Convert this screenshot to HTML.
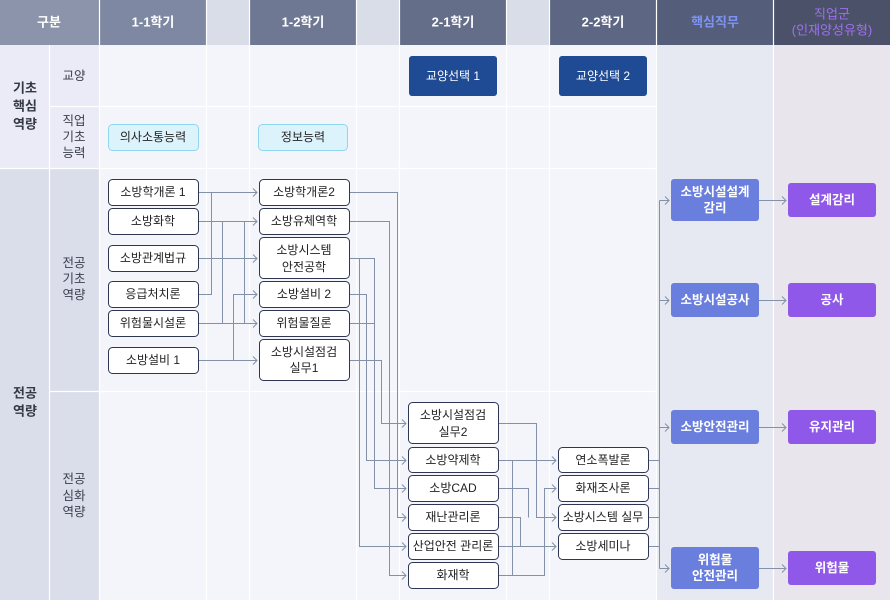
<!DOCTYPE html>
<html><head><meta charset="utf-8"><style>
html,body{margin:0;padding:0;background:#f4f5fa;}
svg{display:block;font-family:"Liberation Sans","Noto Sans CJK KR",sans-serif;}
.h{fill:#fff;font-size:13px;font-weight:bold;}
.l{fill:#3a3f4e;font-size:12.5px;}
.lb{fill:#333845;font-size:13px;font-weight:bold;}
.b{fill:#fff;stroke:#2e3652;stroke-width:1;}
.t{fill:#222;font-size:12px;}
.c{fill:none;stroke:#8290a8;stroke-width:1;}
.w{fill:#fff;font-size:12.5px;font-weight:bold;}
</style></head><body>
<svg width="890" height="600" viewBox="0 0 890 600" xmlns="http://www.w3.org/2000/svg">
<!-- body backgrounds -->
<rect x="0" y="0" width="890" height="600" fill="#f4f5fa"/>
<rect x="0" y="45" width="99" height="123" fill="#eaebf6"/>
<rect x="0" y="168" width="99" height="432" fill="#dadeea"/>
<rect x="657" y="45" width="116" height="555" fill="#e6e9f2"/>
<rect x="773" y="45" width="117" height="555" fill="#e8e5ec"/>
<!-- header -->
<rect x="0" y="0" width="99" height="45" fill="#8b94aa"/>
<rect x="100" y="0" width="106" height="45" fill="#7f88a2"/>
<rect x="207" y="0" width="42" height="45" fill="#d9dde8"/>
<rect x="250" y="0" width="106" height="45" fill="#6f7892"/>
<rect x="357" y="0" width="42" height="45" fill="#d9dde8"/>
<rect x="400" y="0" width="106" height="45" fill="#656e89"/>
<rect x="507" y="0" width="42" height="45" fill="#d9dde8"/>
<rect x="550" y="0" width="106" height="45" fill="#5d6682"/>
<rect x="657" y="0" width="116" height="45" fill="#545d79"/>
<rect x="774" y="0" width="116" height="45" fill="#4a5169"/>
<!-- grid lines -->
<g stroke="#ffffff" stroke-width="1.2">
<line x1="49.5" y1="45" x2="49.5" y2="600"/>
<line x1="99.5" y1="0" x2="99.5" y2="600"/>
<line x1="206.5" y1="0" x2="206.5" y2="600"/>
<line x1="249.5" y1="0" x2="249.5" y2="600"/>
<line x1="356.5" y1="0" x2="356.5" y2="600"/>
<line x1="399.5" y1="0" x2="399.5" y2="600"/>
<line x1="506.5" y1="0" x2="506.5" y2="600"/>
<line x1="549.5" y1="0" x2="549.5" y2="600"/>
<line x1="656.5" y1="0" x2="656.5" y2="600"/>
<line x1="773.5" y1="0" x2="773.5" y2="600"/>
<line x1="49" y1="106.5" x2="657" y2="106.5"/>
<line x1="0" y1="168.5" x2="657" y2="168.5"/>
<line x1="49" y1="391.5" x2="657" y2="391.5"/>
</g>
<!-- header text -->
<g text-anchor="middle" dominant-baseline="central">
<text class="h" x="49" y="22">구분</text>
<text class="h" x="153" y="22">1-1학기</text>
<text class="h" x="303" y="22">1-2학기</text>
<text class="h" x="453" y="22">2-1학기</text>
<text class="h" x="603" y="22">2-2학기</text>
<text class="h" x="715" y="22" style="fill:#7f94f2">핵심직무</text>
<text class="h" x="832" y="14" style="fill:#a070ee;font-weight:normal">직업군</text>
<text class="h" x="832" y="30" style="fill:#a070ee;font-weight:normal">(인재양성유형)</text>
<!-- left labels -->
<text class="lb" x="25" y="88">기초</text>
<text class="lb" x="25" y="106">핵심</text>
<text class="lb" x="25" y="124">역량</text>
<text class="l" x="74" y="76">교양</text>
<text class="l" x="74" y="121">직업</text>
<text class="l" x="74" y="137">기초</text>
<text class="l" x="74" y="153">능력</text>
<text class="lb" x="25" y="393">전공</text>
<text class="lb" x="25" y="411">역량</text>
<text class="l" x="74" y="263">전공</text>
<text class="l" x="74" y="279">기초</text>
<text class="l" x="74" y="295">역량</text>
<text class="l" x="74" y="479">전공</text>
<text class="l" x="74" y="496">심화</text>
<text class="l" x="74" y="512">역량</text>
</g>
<!-- top boxes -->
<rect x="108.5" y="124.5" width="90" height="26" rx="4" fill="#ddf3fb" stroke="#8fd6ef"/>
<rect x="258.5" y="124.5" width="89" height="26" rx="4" fill="#ddf3fb" stroke="#8fd6ef"/>
<rect x="409" y="56" width="88" height="40" rx="3" fill="#1f4a94"/>
<rect x="559" y="56" width="88" height="40" rx="3" fill="#1f4a94"/>
<g text-anchor="middle" dominant-baseline="central">
<text class="t" x="153" y="137">의사소통능력</text>
<text class="t" x="303" y="137">정보능력</text>
<text class="t" x="453" y="76" style="fill:#fff">교양선택 1</text>
<text class="t" x="603" y="76" style="fill:#fff">교양선택 2</text>
</g>
<!-- connectors -->
<g class="c">
<path d="M198,192.5H257M211.5,192.5V294.5H198"/>
<path d="M198,221.5H257M222.5,221.5V323.5M244.5,221.5V323.5"/>
<path d="M198,258.5H257"/>
<path d="M198,323.5H257"/>
<path d="M198,360.5H257M233.5,360.5V294.5H257"/>
<path d="M349,192.5H397.5V517.5H406"/>
<path d="M349,221.5H389.5V575.5H406"/>
<path d="M349,258.5H374.5V488.5H406M359.5,258.5V546.5H406"/>
<path d="M349,294.5H366.5V460.5H406"/>
<path d="M349,323.5H374.5"/>
<path d="M349,360.5H381.5V423.5H406"/>
<path d="M498,423.5H536.5V517.5H556"/>
<path d="M498,460.5H556M512.5,460.5V575.5"/>
<path d="M498,488.5H528.5V517.5"/>
<path d="M498,517.5H520.5V546.5"/>
<path d="M498,546.5H556"/>
<path d="M498,575.5H544.5V488.5H556"/>
<path d="M648,460.5H659.5M648,488.5H659.5M648,517.5H659.5M648,546.5H659.5"/>
<path d="M659.5,200.5V568.5M659.5,200.5H669M659.5,300.5H669M659.5,427.5H669M659.5,568.5H669"/>
<path d="M759,200.5H786M759,300.5H786M759,427.5H786M759,568.5H786"/>
<!-- arrowheads -->
<path d="M253,188.5L257,192.5L253,196.5M253,217.5L257,221.5L253,225.5M253,254.5L257,258.5L253,262.5M253,290.5L257,294.5L253,298.5M253,319.5L257,323.5L253,327.5M253,356.5L257,360.5L253,364.5"/>
<path d="M402,419.5L406,423.5L402,427.5M402,456.5L406,460.5L402,464.5M402,484.5L406,488.5L402,492.5M402,513.5L406,517.5L402,521.5M402,542.5L406,546.5L402,550.5M402,571.5L406,575.5L402,579.5"/>
<path d="M552,456.5L556,460.5L552,464.5M552,484.5L556,488.5L552,492.5M552,513.5L556,517.5L552,521.5M552,542.5L556,546.5L552,550.5"/>
<path d="M665,196.5L669,200.5L665,204.5M665,296.5L669,300.5L665,304.5M665,423.5L669,427.5L665,431.5M665,564.5L669,568.5L665,572.5"/>
<path d="M782,196.5L786,200.5L782,204.5M782,296.5L786,300.5L782,304.5M782,423.5L786,427.5L782,431.5M782,564.5L786,568.5L782,572.5"/>
</g>
<!-- course boxes -->
<g>
<rect class="b" x="108.5" y="179.5" width="90" height="26" rx="4"/>
<rect class="b" x="108.5" y="208.5" width="90" height="26" rx="4"/>
<rect class="b" x="108.5" y="245.5" width="90" height="26" rx="4"/>
<rect class="b" x="108.5" y="281.5" width="90" height="26" rx="4"/>
<rect class="b" x="108.5" y="310.5" width="90" height="26" rx="4"/>
<rect class="b" x="108.5" y="347.5" width="90" height="26" rx="4"/>
<rect class="b" x="259.5" y="179.5" width="90" height="26" rx="4"/>
<rect class="b" x="259.5" y="208.5" width="90" height="26" rx="4"/>
<rect class="b" x="259.5" y="237.5" width="90" height="41" rx="4"/>
<rect class="b" x="259.5" y="281.5" width="90" height="26" rx="4"/>
<rect class="b" x="259.5" y="310.5" width="90" height="26" rx="4"/>
<rect class="b" x="259.5" y="339.5" width="90" height="41" rx="4"/>
<rect class="b" x="408.5" y="402.5" width="90" height="41" rx="4"/>
<rect class="b" x="408.5" y="447.5" width="90" height="25" rx="4"/>
<rect class="b" x="408.5" y="475.5" width="90" height="26" rx="4"/>
<rect class="b" x="408.5" y="504.5" width="90" height="26" rx="4"/>
<rect class="b" x="408.5" y="533.5" width="90" height="26" rx="4"/>
<rect class="b" x="408.5" y="562.5" width="90" height="26" rx="4"/>
<rect class="b" x="558.5" y="447.5" width="90" height="25" rx="4"/>
<rect class="b" x="558.5" y="475.5" width="90" height="26" rx="4"/>
<rect class="b" x="558.5" y="504.5" width="90" height="26" rx="4"/>
<rect class="b" x="558.5" y="533.5" width="90" height="26" rx="4"/>
</g>
<g text-anchor="middle" dominant-baseline="central">
<text class="t" x="153" y="192">소방학개론 1</text>
<text class="t" x="153" y="221">소방화학</text>
<text class="t" x="153" y="258">소방관계법규</text>
<text class="t" x="153" y="294">응급처치론</text>
<text class="t" x="153" y="323">위험물시설론</text>
<text class="t" x="153" y="360">소방설비 1</text>
<text class="t" x="304" y="192">소방학개론2</text>
<text class="t" x="304" y="221">소방유체역학</text>
<text class="t" x="304" y="250">소방시스템</text>
<text class="t" x="304" y="267">안전공학</text>
<text class="t" x="304" y="294">소방설비 2</text>
<text class="t" x="304" y="323">위험물질론</text>
<text class="t" x="304" y="352">소방시설점검</text>
<text class="t" x="304" y="368">실무1</text>
<text class="t" x="453" y="415">소방시설점검</text>
<text class="t" x="453" y="432">실무2</text>
<text class="t" x="453" y="460">소방약제학</text>
<text class="t" x="453" y="488">소방CAD</text>
<text class="t" x="453" y="517">재난관리론</text>
<text class="t" x="453" y="546">산업안전 관리론</text>
<text class="t" x="453" y="575">화재학</text>
<text class="t" x="603" y="460">연소폭발론</text>
<text class="t" x="603" y="488">화재조사론</text>
<text class="t" x="603" y="517">소방시스템 실무</text>
<text class="t" x="603" y="546">소방세미나</text>
</g>
<!-- core & job boxes -->
<rect x="671" y="179" width="88" height="42" rx="3" fill="#6a7fdd"/>
<rect x="671" y="283" width="88" height="34" rx="3" fill="#6a7fdd"/>
<rect x="671" y="410" width="88" height="34" rx="3" fill="#6a7fdd"/>
<rect x="671" y="547" width="88" height="42" rx="3" fill="#6a7fdd"/>
<rect x="788" y="183" width="88" height="34" rx="3" fill="#8f58e8"/>
<rect x="788" y="283" width="88" height="34" rx="3" fill="#8f58e8"/>
<rect x="788" y="410" width="88" height="34" rx="3" fill="#8f58e8"/>
<rect x="788" y="551" width="88" height="34" rx="3" fill="#8f58e8"/>
<g text-anchor="middle" dominant-baseline="central">
<text class="w" x="715" y="192">소방시설설계</text>
<text class="w" x="715" y="208">감리</text>
<text class="w" x="715" y="300">소방시설공사</text>
<text class="w" x="715" y="427">소방안전관리</text>
<text class="w" x="715" y="560">위험물</text>
<text class="w" x="715" y="576">안전관리</text>
<text class="w" x="832" y="200">설계감리</text>
<text class="w" x="832" y="300">공사</text>
<text class="w" x="832" y="427">유지관리</text>
<text class="w" x="832" y="568">위험물</text>
</g>
</svg>
</body></html>
